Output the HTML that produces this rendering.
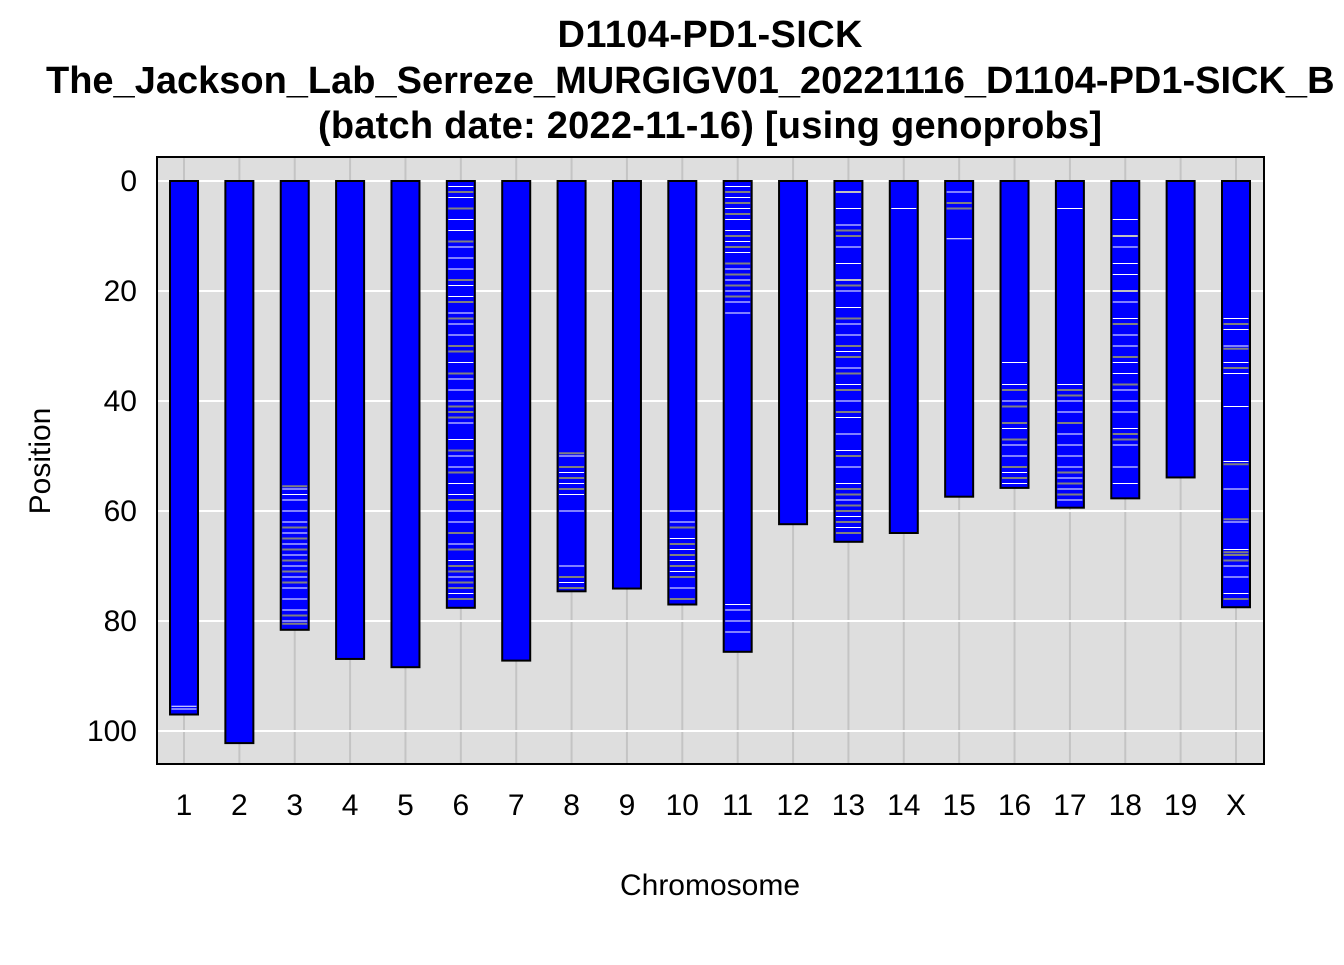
<!DOCTYPE html>
<html><head><meta charset="utf-8"><style>
body{margin:0;background:#fff;}
svg text{font-family:"Liberation Sans",Arial,sans-serif;}
</style></head><body>
<svg id="chart" width="1344" height="960" xmlns="http://www.w3.org/2000/svg">
<text x="710" y="47" font-size="38" font-weight="bold" text-anchor="middle" textLength="305">D1104-PD1-SICK</text>
<text x="46" y="93" font-size="38" font-weight="bold">The_Jackson_Lab_Serreze_MURGIGV01_20221116_D1104-PD1-SICK_B</text>
<text x="710" y="138" font-size="38" font-weight="bold" text-anchor="middle" textLength="784">(batch date: 2022-11-16) [using genoprobs]</text>
<text transform="translate(50,461) rotate(-90)" font-size="30" text-anchor="middle">Position</text>
<text x="710" y="895" font-size="30" text-anchor="middle">Chromosome</text>
<g id="plot"></g>
</svg>
<script>
const chroms=["1","2","3","4","5","6","7","8","9","10","11","12","13","14","15","16","17","18","19","X"];
const lengths=[97,102.2,81.6,86.9,88.4,77.6,87.2,74.6,74.1,77,85.6,62.4,65.6,64,57.4,55.8,59.4,57.7,53.9,77.5];
const yTicks=[0,20,40,60,80,100];
const whiteStripes=[[95.5,96],[],[56,57,58,60,62,64,66,68,70,72,74,76,78,80],[],[],[1,3,7,9,12,14,16,19,21,24,26,28,33,36,38,40,44,47,50,52,55,57,60,62,66,69,72,75],[],[50,53,55,57,60,70,73],[],[60,62,65,67,69,71,74],[1,3,5,7,9,11,13,16,18,20,22,24,77,78,80,82],[],[2,5,8,12,15,18,20,23,26,28,31,34,37,40,43,46,49,52,55,58,61,63],[5],[2,10.5],[33,37,40,45,48,50,53,55],[5,37,40,42,46,48,50,52,54,56,58],[7,10,12,15,17,20,22,25,28,30,33,35,38,40,42,45,48,52,55],[],[25,27,30,33,35,41,51,56,62,67,70,72,75]];
const grayStripes=[[],[],[55.5,63,65,67,69,71,73,79,80.5],[],[],[2,5,11,18,22,25,30,31,35,41,42,43,49,53,58,64,67,70,71,73,74,76],[],[49.5,52,54,56,72,74],[],[63,66,68,70,72,76],[2,4,6,10,12,15,17,19,21],[],[2,9,10,18,19,25,30,32,35,38,42,50,56,57,59,60,62,64],[],[4,5],[38,41,44,47,52,54],[38,39,44,53,55,57],[10,20,26,32,37,46,47],[],[26,30.5,34,51.5,61.5,67.5,68,69,76]];
const NS="http://www.w3.org/2000/svg";
const L=157,T=157,R=1264,B=764;
const xs=i=>184+i*(1236-184)/19;
const ys=v=>181+v*5.5;
const g=document.getElementById('plot');
function mk(tag,attrs,parent){const e=document.createElementNS(NS,tag);for(const k in attrs)e.setAttribute(k,attrs[k]);(parent||g).appendChild(e);return e;}
const bg=mk('rect',{x:L,y:T,width:R-L,height:B-T,fill:'#dedede'});


chroms.forEach((c,i)=>{
  const l=mk('line',{x1:xs(i),x2:xs(i),y1:T,y2:B,stroke:'#c4c4c4','stroke-width':2});
  
  
  const t=mk('text',{x:xs(i),y:815,'font-size':30,'text-anchor':'middle'});t.textContent=c;
  
  
});
yTicks.forEach(v=>{
  const l=mk('line',{x1:L,x2:R,y1:ys(v),y2:ys(v),stroke:'#fff','stroke-width':2});
  
  
  const t=mk('text',{x:137,y:ys(v)+10,'font-size':30,'text-anchor':'end'});t.textContent=v;
  
  
});
chroms.forEach((c,i)=>{
  const bx=xs(i)-14,bw=28;
  const r=mk('rect',{x:bx,y:ys(0),width:bw,height:ys(lengths[i])-ys(0),fill:'#0000ff',stroke:'#000','stroke-width':2});
  
  
  grayStripes[i].forEach(p=>{
    const s=mk('rect',{x:bx+1.5,y:ys(p)-1,width:bw-3,height:2,fill:'#808080'});
    
    
  });
  whiteStripes[i].forEach(p=>{
    const s=mk('rect',{x:bx+1.5,y:ys(p)-0.5,width:bw-3,height:1,fill:'#ffffff'});
    
    
  });
});
const fr=mk('rect',{x:L,y:T,width:R-L,height:B-T,fill:'none',stroke:'#000','stroke-width':2});


</script>
</body></html>
